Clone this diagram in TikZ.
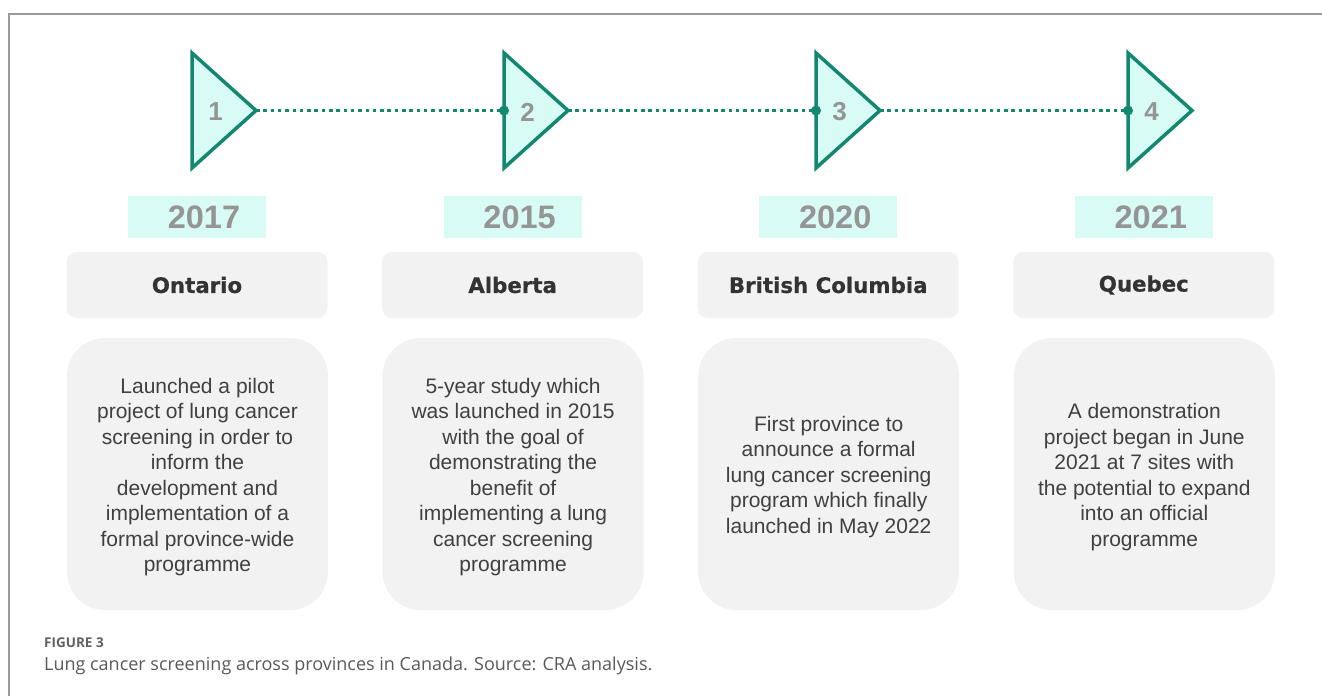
\documentclass[tikz,border=0pt]{standalone}
\usepackage{fontspec}
\setmainfont{Liberation Sans}
\newfontfamily\headfont{DejaVu Sans}[BoldFeatures={FakeBold=0.6}]
\newfontfamily\capfont{Open Sans}
\usetikzlibrary{positioning, shapes.geometric, calc}

\definecolor{tlgreen}{HTML}{13876F}
\definecolor{tlmint}{HTML}{D8FBF6}
\definecolor{boxgray}{HTML}{F2F2F2}
\definecolor{numgray}{HTML}{959595}
\definecolor{txtgray}{HTML}{404040}
\definecolor{framegray}{HTML}{9A9A9A}

\tikzset{
  marker/.style={isosceles triangle, isosceles triangle stretches, shape border rotate=0,
    minimum width=115, minimum height=64, inner sep=0, outer sep=0, anchor=lower side,
    draw=tlgreen, fill=tlmint, line width=3.5pt},
  num/.style={text=numgray, font=\bfseries\fontsize{26}{26}\selectfont},
  link/.style={tlgreen, line width=3.5pt, dash pattern=on 3.5pt off 3.8pt},
  yearbox/.style={fill=tlmint, minimum width=138, minimum height=42, inner sep=0,
    text=numgray, font=\bfseries\fontsize{32.5}{32.5}\selectfont},
  provbox/.style={fill=boxgray, rounded corners=10, minimum width=261, minimum height=66,
    inner sep=0, text=black!80, font=\headfont\bfseries\fontsize{21.3}{24}\selectfont},
  descbox/.style={fill=boxgray, rounded corners=38, minimum width=261, minimum height=272},
  desctext/.style={inner sep=0, align=center, text=txtgray, font=\fontsize{21}{25.5}\selectfont},
}

\begin{document}
\begin{tikzpicture}[x=1pt, y=-1pt]
  \useasboundingbox (0,0) rectangle (1322,696);
  % frame
  \draw[framegray, line width=1.5pt] (1322,14) -- (9,14) -- (9,696);

  % one column per province
  \foreach \i/\yr/\prov/\txt in {
      1/2017/Ontario/{Launched a pilot\\project of lung cancer\\screening in order to\\inform the\\development and\\implementation of a\\formal province-wide\\programme},
      2/2015/Alberta/{5-year study which\\was launched in 2015\\with the goal of\\demonstrating the\\benefit of\\implementing a lung\\cancer screening\\programme},
      3/2020/British Columbia/{First province to\\announce a formal\\lung cancer screening\\program which finally\\launched in May 2022},
      4/2021/Quebec/{A demonstration\\project began in June\\2021 at 7 sites with\\the potential to expand\\into an official\\programme}} {
    \pgfmathsetmacro\tx{192+312*(\i-1)}
    \pgfmathsetmacro\bx{197+315.6*(\i-1)}
    \node[marker] (t\i) at (\tx,110.5) {};
    \node[num] (n\i) at ($(t\i.lower side)!.37!(t\i.apex)+(0,1.5)$) {\i};
    \node[yearbox] (y\i) at (\bx,217) {\hspace{14pt}\yr};
    \node[provbox] (p\i) at (\bx,285) {\prov};
    \node[descbox] (d\i) at (\bx+0.5,474) {};
    \node[desctext] (dt\i) at (\bx+0.5,477) {\txt};
  }

  % dotted timeline
  \foreach \a/\b in {1/2, 2/3, 3/4} {
    \draw[link] (t\a.apex) -- (t\b.lower side);
    \fill[tlgreen] (t\b.lower side) circle (5);
  }

  % caption
  \node[anchor=base west, inner sep=0, text=black!62, font=\capfont\bfseries\fontsize{13.5}{13.5}\selectfont]
    (figno) at (44,647) {FIGURE 3};
  \node[anchor=base west, inner sep=0, text=black!65, font=\capfont\fontsize{18}{18}\selectfont]
    (caption) at (44,670) {Lung cancer screening across provinces in Canada. Source: CRA analysis.};
\end{tikzpicture}
\end{document}
